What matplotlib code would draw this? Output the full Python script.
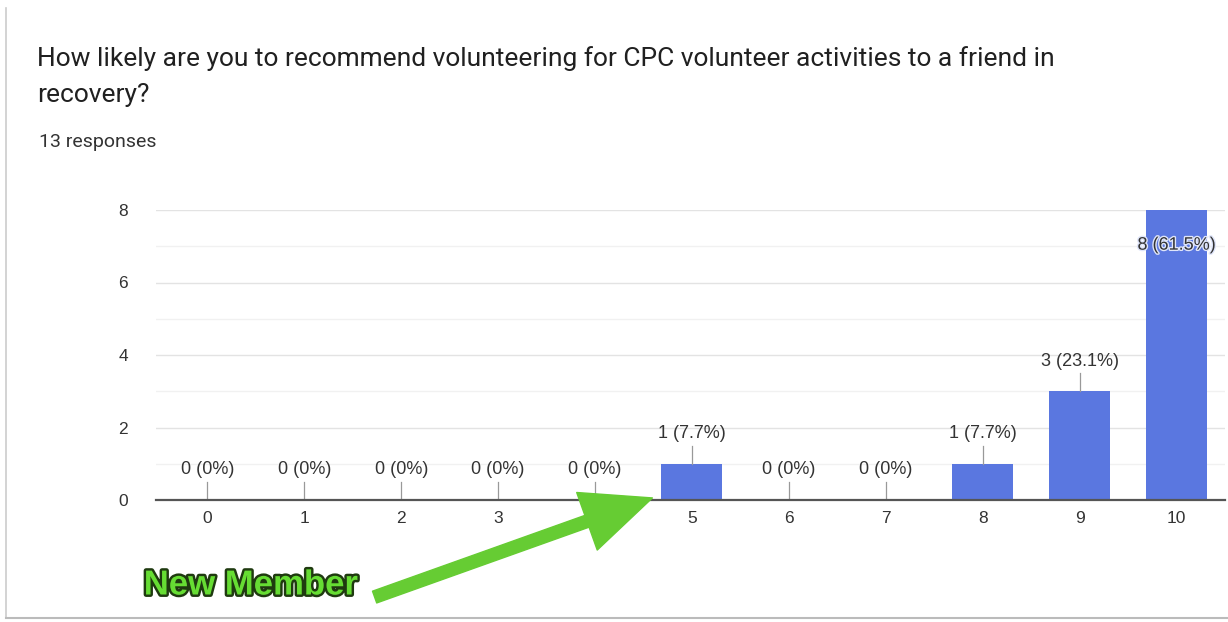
import matplotlib.pyplot as plt
import matplotlib.patheffects as pe
from matplotlib.patches import FancyArrowPatch
from matplotlib.ticker import MultipleLocator

# survey data
scores = [0, 1, 2, 3, 4, 5, 6, 7, 8, 9, 10]
counts = [0, 0, 0, 0, 0, 1, 0, 0, 1, 3, 8]
percents = ["0%", "0%", "0%", "0%", "0%", "7.7%", "0%", "0%", "7.7%", "23.1%", "61.5%"]
y_ticks = [0, 2, 4, 6, 8]

title_lines = ["How likely are you to recommend volunteering for CPC volunteer activities to a friend in",
               "recovery?"]
subtitle = "13 responses"

bar_color = "#5a77e0"
text_color = "#333333"
label_font = ["Liberation Sans", "DejaVu Sans"]
head_font = ["Roboto", "DejaVu Sans"]

W, H = 1228, 622
fig = plt.figure(figsize=(W / 100, H / 100), dpi=100)
fig.patch.set_facecolor("white")


def fx(px):
    return px / W


def fy(py):
    return 1 - py / H


ax = fig.add_axes([fx(156), fy(500), fx(1225) - fx(156), fy(210) - fy(500)])
ax.bar(scores, counts, width=0.63, color=bar_color, zorder=3)

ax.set_xlim(-0.53, 10.5)
ax.set_ylim(0, 8)
ax.set_xticks(scores)
ax.set_xticklabels([str(s) for s in scores])
ax.set_yticks(y_ticks)
ax.yaxis.set_minor_locator(MultipleLocator(1))
ax.grid(axis="y", which="major", color="#e3e3e3", linewidth=1, zorder=0)
ax.grid(axis="y", which="minor", color="#f1f1f1", linewidth=1, zorder=0)
ax.tick_params(axis="both", which="both", length=0, colors=text_color, labelsize=12.5)
ax.tick_params(axis="x", pad=8)
ax.tick_params(axis="y", pad=20)
for lab in ax.get_xticklabels() + ax.get_yticklabels():
    lab.set_family(label_font)
for side in ["top", "right", "left"]:
    ax.spines[side].set_visible(False)
ax.spines["bottom"].set_color("#555555")
ax.spines["bottom"].set_linewidth(1.6)
ax.spines["bottom"].set_zorder(4)

# value labels with short leader lines
for s, c, p in zip(scores, counts, percents):
    label = f"{c} ({p})"
    if c == max(counts):
        ax.text(s, c - 0.97, label, ha="center", va="center", fontsize=13, color=text_color,
                family=label_font, zorder=5,
                path_effects=[pe.withStroke(linewidth=2, foreground="#dfe5fa")])
        continue
    ax.plot([s, s], [c, c + 0.5], color="#999999", linewidth=0.9, zorder=4)
    ax.text(s, c + 0.83, label, ha="center", va="center", fontsize=13, color=text_color,
            family=label_font, zorder=5)

# title block
fig.text(fx(37), fy(66), title_lines[0], ha="left", va="baseline", fontsize=19, color="#202020", family=head_font)
fig.text(fx(37), fy(102), title_lines[1], ha="left", va="baseline", fontsize=19, color="#202020", family=head_font)
fig.text(fx(39), fy(147), subtitle, ha="left", va="baseline", fontsize=14, color="#333333", family=head_font)

# arrow annotation
arrow = FancyArrowPatch((fx(372), fy(598)), (fx(655), fy(497)), transform=fig.transFigure,
                        arrowstyle="simple,head_length=5.0,head_width=4.4,tail_width=0.9",
                        mutation_scale=10, color="#66cc33", zorder=10)
fig.patches.append(arrow)
fig.text(fx(251), fy(585), "New Member", ha="center", va="center", fontsize=25, fontweight="bold",
         family=label_font, color="#66dd33",
         path_effects=[pe.withStroke(linewidth=3.5, foreground="#1f3a10")])

# frame of the card
fig.add_artist(plt.Line2D([fx(6), fx(6)], [fy(8), fy(618)], color="#cccccc", linewidth=1.2))
fig.add_artist(plt.Line2D([fx(6), fx(1228)], [fy(618), fy(618)], color="#bbbbbb", linewidth=1.5))

fig.savefig("out.png", dpi=100)
